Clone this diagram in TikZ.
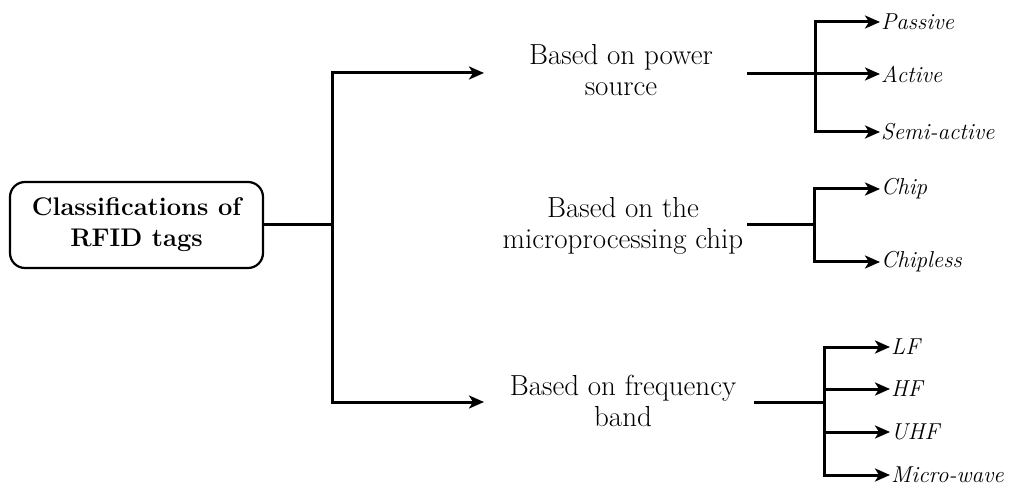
\documentclass[tikz,border=0pt]{standalone}
\usetikzlibrary{arrows.meta}
\tikzset{
 conn/.style={line width=3pt},
 arr/.style={conn,-{Stealth[length=15pt,width=13pt,inset=4pt]}},
 mainbox/.style={draw,line width=2.2pt,rounded corners=15pt,minimum width=253pt,minimum height=86pt,align=center,font=\fontsize{25.5}{31}\selectfont\bfseries},
 cat/.style={align=center,font=\fontsize{29}{31}\selectfont},
 leaf/.style={anchor=west,inner xsep=1pt,inner ysep=1pt,font=\fontsize{23}{28}\selectfont\itshape},
}
\begin{document}
\begin{tikzpicture}[x=1pt,y=-1pt]
\useasboundingbox (0,0) rectangle (1009,486);
\node[mainbox] (main) at (136.5,225) {Classifications of\\RFID tags};
\coordinate (j0) at (332,225);
\coordinate (pin1) at (484,73);
\coordinate (pin3) at (484,402);
\node[cat] (ps) at (621,70) {Based on power\\source};
\node[cat] (mc) at (623,226) {Based on the\\microprocessing chip};
\node[cat] (fb) at (623,401) {Based on frequency\\band};
\draw[conn] (main.east) -- (j0);
\draw[arr] (j0) |- (pin1);
\draw[arr] (j0) |- (pin3);
% power source
\coordinate (s1) at (747,74);
\coordinate (j1) at (815,74);
\node[leaf] (passive) at (880,22) {Passive};
\node[leaf] (active) at (880,74) {Active};
\node[leaf] (semi) at (880,132) {Semi-active};
\draw[conn] (s1) -- (j1);
\draw[arr] (j1) |- (passive.west);
\draw[arr] (j1) -- (active.west);
\draw[arr] (j1) |- (semi.west);
% chip
\coordinate (s2) at (747,225);
\coordinate (j2) at (814,225);
\node[leaf] (chip) at (880,189) {Chip};
\node[leaf] (chipless) at (880,262) {Chipless};
\draw[conn] (s2) -- (j2);
\draw[arr] (j2) |- (chip.west);
\draw[arr] (j2) |- (chipless.west);
% frequency
\coordinate (s3) at (754,402);
\coordinate (j3) at (824,402);
\node[leaf] (lf) at (890,347) {LF};
\node[leaf] (hf) at (890,389) {HF};
\node[leaf] (uhf) at (890,432) {UHF};
\node[leaf] (mw) at (890,475) {Micro-wave};
\draw[conn] (s3) -- (j3);
\draw[arr] (j3) |- (lf.west);
\draw[arr] (j3) |- (mw.west);
\draw[arr] (j3 |- hf.west) -- (hf.west);
\draw[arr] (j3 |- uhf.west) -- (uhf.west);
\end{tikzpicture}
\end{document}
